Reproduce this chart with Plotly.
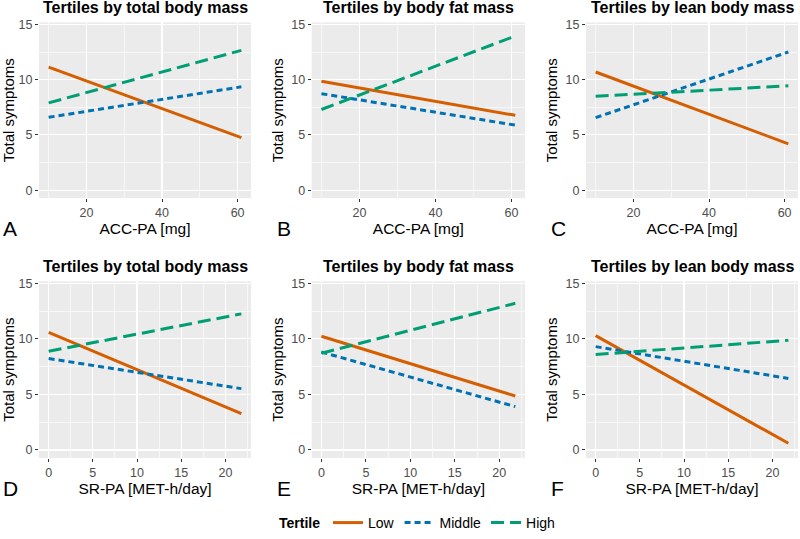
import plotly.graph_objects as go

# ---- data ----
tertiles = ["Low", "Middle", "High"]
panel_letters = ["A", "B", "C", "D", "E", "F"]
panel_titles = ["Tertiles by total body mass", "Tertiles by body fat mass", "Tertiles by lean body mass",
                "Tertiles by total body mass", "Tertiles by body fat mass", "Tertiles by lean body mass"]
x_titles = ["ACC-PA [mg]"] * 3 + ["SR-PA [MET-h/day]"] * 3
y_title = "Total symptoms"
legend_title = "Tertile"

acc_pa_x = [10, 61]      # ACC-PA range in mg
sr_pa_x = [0, 21.8]      # SR-PA range in MET-h/day

# predicted total symptoms at start/end of PA range, per panel, per tertile
A_low, A_mid, A_high = [11.13, 4.75], [6.59, 9.35], [7.90, 12.65]
B_low, B_mid, B_high = [9.86, 6.77], [8.73, 5.88], [7.30, 13.95]
C_low, C_mid, C_high = [10.69, 4.19], [6.56, 12.50], [8.49, 9.44]
D_low, D_mid, D_high = [10.58, 3.28], [8.23, 5.52], [8.88, 12.25]
E_low, E_mid, E_high = [10.23, 4.86], [8.82, 3.90], [8.71, 13.20]
F_low, F_mid, F_high = [10.29, 0.60], [9.30, 6.44], [8.59, 9.87]

panels_y = [
    [A_low, A_mid, A_high], [B_low, B_mid, B_high], [C_low, C_mid, C_high],
    [D_low, D_mid, D_high], [E_low, E_mid, E_high], [F_low, F_mid, F_high],
]
panels_x = [acc_pa_x] * 3 + [sr_pa_x] * 3

y_ticks = [0, 5, 10, 15]

# ---- styles ----
W, H = 800, 539
colors = {"Low": "#D55E00", "Middle": "#0072B2", "High": "#009E73"}
dashes = {"Low": "solid", "Middle": "6px,4px", "High": "13px,6px"}
FONT = "Liberation Sans, Arial, sans-serif"

col_px = [(39, 251), (311.7, 525), (586, 798)]
row_px = [(22.7, 200.7), (285, 464)]
letter_left = [1, 275, 549]
title_y_px = [8, 270]
letter_y_px = [231, 495]
legend_y_px = 530

fig = go.Figure()
layout_axes = {}
annotations = []
for i in range(6):
    r, c = divmod(i, 3)
    idx = i + 1
    xa = "x" if idx == 1 else f"x{idx}"
    ya = "y" if idx == 1 else f"y{idx}"
    xs = panels_x[i]
    for t, ys in zip(tertiles, panels_y[i]):
        fig.add_trace(go.Scatter(
            x=xs, y=ys, mode="lines", xaxis=xa, yaxis=ya, name=t,
            legendgroup=t, showlegend=(i == 0), hoverinfo="skip",
            line=dict(color=colors[t], width=3, dash=dashes[t]),
        ))
    x0, x1 = col_px[c]
    yt, yb = row_px[r]
    xspan = xs[1] - xs[0]
    xrange = [xs[0] - 0.05 * xspan, xs[1] + 0.05 * xspan]
    if r == 0:
        xdt, xminor = 20, 10
    else:
        xdt, xminor = 5, 2.5
    common = dict(
        showline=False, zeroline=False, ticks="outside", ticklen=3,
        tickcolor="#333333", tickwidth=1, automargin=False,
        tickfont=dict(family=FONT, size=12.5, color="#4D4D4D"),
        showgrid=True, gridcolor="white", gridwidth=1.2,
    )
    layout_axes["xaxis" if idx == 1 else f"xaxis{idx}"] = dict(
        domain=[x0 / W, x1 / W], range=xrange, anchor=ya,
        tick0=0, dtick=xdt,
        minor=dict(dtick=xminor, tick0=0, showgrid=True, gridcolor="white", gridwidth=0.6, ticks=""),
        title=dict(text=x_titles[i], font=dict(family=FONT, size=15.5, color="black"), standoff=4),
        **common,
    )
    layout_axes["yaxis" if idx == 1 else f"yaxis{idx}"] = dict(
        domain=[1 - yb / H, 1 - yt / H], range=[-0.72, 15.18], anchor=xa,
        tickvals=y_ticks,
        minor=dict(dtick=2.5, tick0=0, showgrid=True, gridcolor="white", gridwidth=0.6, ticks=""),
        title=dict(text=y_title, font=dict(family=FONT, size=15, color="black"), standoff=4),
        **common,
    )
    annotations.append(dict(
        text=f"<b>{panel_titles[i]}</b>", xref="paper", yref="paper",
        x=(x0 + x1) / 2 / W, y=1 - title_y_px[r] / H, xanchor="center", yanchor="middle",
        showarrow=False, font=dict(family=FONT, size=16, color="black"),
    ))
    annotations.append(dict(
        text=panel_letters[i], xref="paper", yref="paper",
        x=letter_left[c] / W, y=1 - letter_y_px[r] / H, xanchor="left", yanchor="middle",
        showarrow=False, font=dict(family=FONT, size=21, color="black"),
    ))

# legend title as text, vertically aligned with the legend entries
annotations.append(dict(
    text=f"<b>{legend_title}</b>", xref="paper", yref="paper",
    x=322 / W, y=1 - legend_y_px / H, xanchor="right", yanchor="middle",
    showarrow=False, font=dict(family=FONT, size=14, color="black"),
))

fig.update_layout(
    template="none",
    width=W, height=H, autosize=False,
    margin=dict(l=0, r=0, t=0, b=0, pad=0),
    paper_bgcolor="white", plot_bgcolor="#EBEBEB",
    font=dict(family=FONT, color="black"),
    annotations=annotations,
    hovermode=False,
    legend=dict(
        orientation="h", x=328 / W, xanchor="left", y=1 - legend_y_px / H, yanchor="middle",
        font=dict(family=FONT, size=14, color="black"),
        bgcolor="rgba(0,0,0,0)", itemwidth=30, valign="middle",
    ),
    **layout_axes,
)
fig.write_html(
    "out.html",
    config={"displayModeBar": False, "staticPlot": True},
    post_script="document.body.style.margin='0';document.body.style.overflow='hidden';",
)
